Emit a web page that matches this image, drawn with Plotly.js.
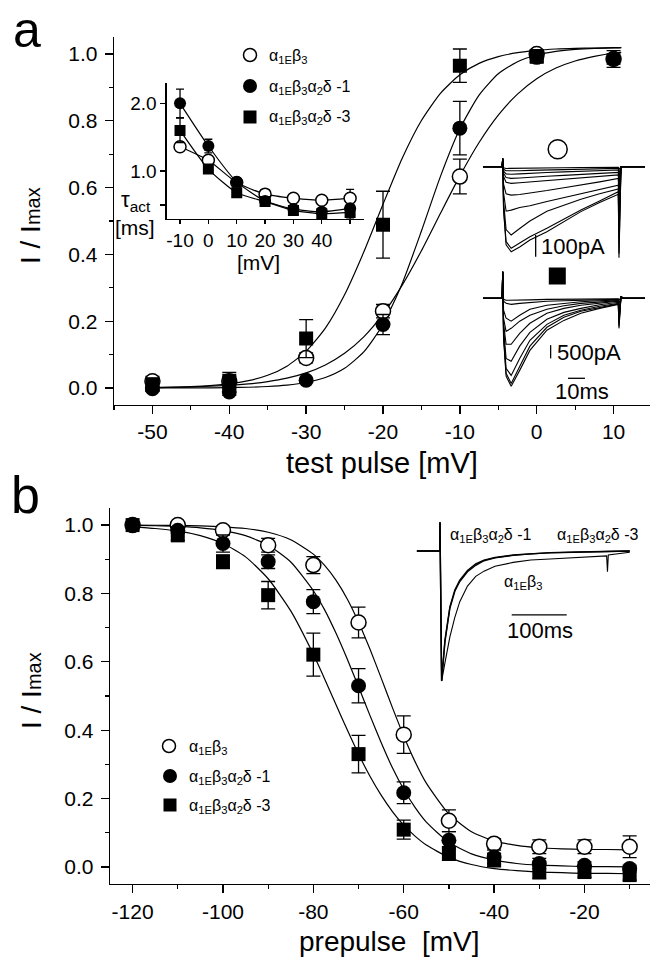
<!DOCTYPE html>
<html><head><meta charset="utf-8">
<script src="https://cdn.plot.ly/plotly-3.0.1.min.js"></script>
<style>html,body{margin:0;padding:0;background:#fff;} #chart{width:650px;height:959px;}</style>
</head><body><div id="chart"></div>
<script>
// ---------- Panel a: activation ----------
const testV = [-50, -40, -30, -20, -10, 0, 10];
const actOpen = [0.02, 0.02, 0.09, 0.23, 0.633, 1.0, 0.985];
const actOpenErr = [0.015, 0.015, 0.015, 0.02, 0.052, 0.01, 0.015];
const actFilled = [-0.002, -0.012, 0.023, 0.19, 0.778, 0.99, 0.985];
const actFilledErr = [0.005, 0.01, 0.006, 0.03, 0.08, 0.012, 0.025];
const testVsq = [-50, -40, -30, -20, -10, 0];
const actSquare = [0.01, 0.022, 0.148, 0.489, 0.965, 0.993];
const actSquareErr = [0.02, 0.025, 0.057, 0.1, 0.05, 0.02];

const fitV = [-50,-45,-40,-37.5,-35,-32.5,-30,-27.5,-25,-22.5,-20,-17.5,-15,-12.5,-10,-7.5,-5,-2.5,0,2.5,5,7.5,10,11];
const fitActSquare = [0.0013,0.0041,0.0125,0.0219,0.038,0.0654,0.110,0.179,0.279,0.407,0.550,0.688,0.801,0.883,0.938,0.972,0.992,1.004,1.011,1.015,1.017,1.018,1.019,1.019];
const fitActFilled = [0.0001,0.0003,0.0012,0.0023,0.0045,0.0087,0.0165,0.0315,0.0591,0.108,0.190,0.313,0.470,0.635,0.776,0.877,0.941,0.977,0.997,1.008,1.014,1.017,1.018,1.019];
const fitActOpen = [0.0013,0.0032,0.0079,0.0122,0.019,0.0294,0.0452,0.0689,0.1038,0.153,0.221,0.308,0.411,0.524,0.635,0.735,0.817,0.880,0.926,0.958,0.979,0.993,1.003,1.005];

// inset: tau_act
const tauV = [-10, 0, 10, 20, 30, 40, 50];
const tauOpen = [1.36, 1.16, 0.83, 0.66, 0.60, 0.57, 0.60];
const tauOpenErr = [0.07, 0.05, 0.03, 0.03, 0.03, 0.03, 0.13];
const tauFilled = [2.0, 1.37, 0.84, 0.56, 0.44, 0.40, 0.45];
const tauFilledErr = [0.21, 0.1, 0.03, 0.03, 0.03, 0.03, 0.05];
const tauSquare = [1.6, 1.03, 0.68, 0.55, 0.42, 0.37, 0.39];
const tauSquareErr = [0.18, 0.05, 0.03, 0.03, 0.03, 0.03, 0.1];

// current traces (ms, pA)
const trT = [-11.6,-0.3,0,0.5,2,5,10,16,26,36,46,57,68,68.4,69.6,71,83.7];
const trOpen = [
 [0,0,38,-5,-8,-8,-7,-7,-6,-5,-4,-4,-3,-12,0,0,0],
 [0,0,38,-12,-19,-20,-19,-17,-15,-13,-11,-10,-8,-30,0,0,0],
 [0,0,38,-20,-33,-35,-33,-30,-27,-24,-21,-18,-15,-50,0,0,0],
 [0,0,38,-30,-50,-54,-52,-48,-44,-40,-36,-31,-26,-80,0,0,0],
 [0,0,38,-45,-72,-77,-74,-70,-64,-57,-50,-44,-38,-120,0,0,0],
 [0,0,38,-80,-125,-131,-128,-122,-110,-97,-85,-70,-54,-180,0,0,0],
 [0,0,38,-120,-205,-200,-188,-180,-160,-142,-125,-105,-85,-260,0,0,0],
 [0,0,38,-160,-290,-315,-285,-250,-205,-178,-150,-125,-103,-330,0,0,0],
 [0,0,38,-190,-345,-376,-352,-323,-284,-242,-200,-158,-115,-400,0,0,0],
 [0,0,38,-200,-360,-392,-370,-338,-300,-255,-207,-165,-127,-420,0,0,0]
];
const trSquare = [
 [0,0,1000,-40,-75,-75,-75,-60,-40,-40,-40,-20,-20,-75,40,0,0],
 [0,0,1000,-110,-190,-230,-190,-150,-110,-90,-75,-60,-40,-190,40,0,0],
 [0,0,1000,-450,-750,-860,-640,-410,-260,-190,-130,-90,-60,-380,40,0,0],
 [0,0,1000,-750,-1240,-1130,-860,-640,-410,-280,-190,-130,-90,-530,40,0,0],
 [0,0,1000,-940,-1730,-1730,-1320,-940,-560,-380,-260,-190,-110,-680,50,0,0],
 [0,0,1000,-1130,-2260,-2370,-1800,-1280,-790,-530,-380,-240,-150,-830,60,0,0],
 [0,0,1000,-1320,-2630,-2900,-2260,-1580,-980,-640,-450,-300,-190,-940,75,0,0],
 [0,0,1000,-1430,-2820,-3200,-2560,-1800,-1090,-710,-490,-340,-210,-1050,75,0,0],
 [0,0,1000,-1500,-2930,-3310,-2710,-1960,-1200,-830,-560,-380,-230,-1130,75,0,0]
];

// ---------- Panel b: inactivation ----------
const prepV = [-120,-110,-100,-90,-80,-70,-60,-50,-40,-30,-20,-10];
const inOpen = [1.0,1.0,0.985,0.941,0.883,0.715,0.387,0.135,0.068,0.059,0.059,0.059];
const inOpenErr = [0.005,0.008,0.012,0.02,0.025,0.045,0.055,0.032,0.015,0.02,0.02,0.032];
const inFilled = [1.0,0.985,0.946,0.893,0.776,0.53,0.217,0.078,0.029,0.01,0.005,-0.005];
const inFilledErr = [0.005,0.01,0.025,0.02,0.035,0.05,0.032,0.025,0.02,0.015,0.01,0.01];
const inSquare = [1.0,0.97,0.893,0.795,0.621,0.33,0.109,0.039,0.02,-0.015,-0.015,-0.024];
const inSquareErr = [0.005,0.015,0.02,0.04,0.063,0.055,0.028,0.02,0.02,0.02,0.015,0.015];

const fitPV = [-120,-115,-110,-105,-100,-95,-90,-85,-80,-77.5,-75,-72.5,-70,-67.5,-65,-62.5,-60,-57.5,-55,-50,-45,-40,-35,-30,-25,-20,-15,-10];
const fitInOpen = [1.0,0.9995,0.9989,0.9976,0.995,0.990,0.979,0.957,0.915,0.882,0.839,0.784,0.716,0.638,0.553,0.466,0.383,0.308,0.245,0.155,0.103,0.076,0.063,0.056,0.053,0.051,0.051,0.050];
const fitInFilled = [0.999,0.998,0.996,0.992,0.984,0.969,0.941,0.892,0.808,0.752,0.684,0.608,0.527,0.444,0.364,0.290,0.227,0.174,0.131,0.072,0.038,0.020,0.010,0.005,0.003,0.001,0.001,0.0];
const fitInSquare = [0.995,0.990,0.983,0.969,0.946,0.907,0.843,0.749,0.622,0.550,0.475,0.401,0.330,0.266,0.210,0.162,0.122,0.090,0.064,0.028,0.007,-0.005,-0.011,-0.015,-0.017,-0.019,-0.019,-0.020];

// inset b traces (ms, normalised current)
const trBT = [-42,-0.5,0,3,9,18,27,36,50,65,80,100,133,165,200,250,303,304.5,306,345];
const trBd1 = [0,0,0.22,-1.0,-0.685,-0.43,-0.30,-0.225,-0.15,-0.10,-0.07,-0.05,-0.031,-0.02,-0.013,-0.008,-0.004,-0.004,-0.004,0];
const trBd3 = [0,0,0.22,-1.0,-0.70,-0.44,-0.31,-0.235,-0.16,-0.11,-0.075,-0.053,-0.034,-0.022,-0.015,-0.009,-0.005,-0.005,-0.005,0];
const trBb3 = [0,0,0.22,-1.0,-0.86,-0.66,-0.51,-0.39,-0.27,-0.195,-0.155,-0.118,-0.088,-0.069,-0.062,-0.052,-0.038,-0.16,-0.03,-0.01];

// tick labels
const aTickVals = [-50,-40,-30,-20,-10,0,10];
const aTickText = ['-50','-40','-30','-20','-10','0','10'];
const bTickVals = [-120,-100,-80,-60,-40,-20];
const bTickText = ['-120','-100','-80','-60','-40','-20'];
const yTickVals = [0,0.2,0.4,0.6,0.8,1.0];
const yTickText = ['0.0','0.2','0.4','0.6','0.8','1.0'];
const insTickVals = [-10,0,10,20,30,40,50];
const insTickText = ['-10','0','10','20','30','40',''];
const insYTickVals = [0.5,1.0,2.0];
const insYTickText = ['','1.0','2.0'];

const labOpen = 'α<sub>1E</sub>β<sub>3</sub>';
const labD1 = 'α<sub>1E</sub>β<sub>3</sub>α<sub>2</sub>δ -1';
const labD3 = 'α<sub>1E</sub>β<sub>3</sub>α<sub>2</sub>δ -3';

// ---------- build ----------
const W = 650, H = 959;
const px = x => x / W, py = y => 1 - y / H;
const FONT = 'Liberation Sans, Arial, sans-serif';
const K = 'black';

const traces = [];
function fit(x, y, xa, ya, w) {
  traces.push({x, y, xaxis: xa, yaxis: ya, mode: 'lines', line: {color: K, width: w || 1.2, shape: 'spline', smoothing: 0.6}, hoverinfo: 'skip'});
}
function pts(x, y, e, kind, xa, ya, size, cap) {
  const m = kind === 'open' ? {symbol: 'circle', color: 'white', size: size, line: {color: K, width: 1.5}}
          : kind === 'filled' ? {symbol: 'circle', color: K, size: size, line: {width: 0}}
          : {symbol: 'square', color: K, size: size - 1, line: {width: 0}};
  traces.push({x, y, xaxis: xa, yaxis: ya, mode: 'markers', marker: m,
    error_y: {type: 'data', array: e, visible: true, color: K, thickness: 1.3, width: cap}, hoverinfo: 'skip'});
}
// panel a
fit(fitV, fitActSquare, 'x', 'y');
fit(fitV, fitActFilled, 'x', 'y');
fit(fitV, fitActOpen, 'x', 'y');
pts(testV, actOpen, actOpenErr, 'open', 'x', 'y', 15, 7);
pts(testV, actFilled, actFilledErr, 'filled', 'x', 'y', 15, 7);
pts(testVsq, actSquare, actSquareErr, 'square', 'x', 'y', 15, 7);
// inset a
fit(tauV, tauOpen, 'x3', 'y3', 1.2);
fit(tauV, tauFilled, 'x3', 'y3', 1.2);
fit(tauV, tauSquare, 'x3', 'y3', 1.2);
pts(tauV, tauOpen, tauOpenErr, 'open', 'x3', 'y3', 12, 4);
pts(tauV, tauFilled, tauFilledErr, 'filled', 'x3', 'y3', 12, 4);
pts(tauV, tauSquare, tauSquareErr, 'square', 'x3', 'y3', 12, 4);
// current traces
trOpen.forEach(c => traces.push({x: trT, y: c, xaxis: 'x4', yaxis: 'y4', mode: 'lines', line: {color: K, width: 1.1}, hoverinfo: 'skip'}));
trSquare.forEach(c => traces.push({x: trT, y: c, xaxis: 'x5', yaxis: 'y5', mode: 'lines', line: {color: K, width: 1.1}, hoverinfo: 'skip'}));
// panel b
fit(fitPV, fitInOpen, 'x2', 'y2');
fit(fitPV, fitInFilled, 'x2', 'y2');
fit(fitPV, fitInSquare, 'x2', 'y2');
pts(prepV, inOpen, inOpenErr, 'open', 'x2', 'y2', 15, 7);
pts(prepV, inFilled, inFilledErr, 'filled', 'x2', 'y2', 15, 7);
pts(prepV, inSquare, inSquareErr, 'square', 'x2', 'y2', 15, 7);
// inset b traces
[trBd1, trBd3].forEach(c => traces.push({x: trBT, y: c, xaxis: 'x6', yaxis: 'y6', mode: 'lines', line: {color: K, width: 1.4}, hoverinfo: 'skip'}));
traces.push({x: trBT, y: trBb3, xaxis: 'x6', yaxis: 'y6', mode: 'lines', line: {color: K, width: 1.1}, hoverinfo: 'skip'});

const tickFont = {family: FONT, size: 21, color: K};
function axis(extra) {
  return Object.assign({showline: true, linecolor: K, linewidth: 1.3, ticks: 'outside', ticklen: 8, tickwidth: 1.3, tickcolor: K,
    showgrid: false, zeroline: false, tickfont: tickFont, tickmode: 'array', fixedrange: true}, extra);
}
function hidden(extra) {
  return Object.assign({visible: false, showgrid: false, zeroline: false, fixedrange: true}, extra);
}
const minorX = d => ({ticks: 'outside', ticklen: 4, tickwidth: 1.2, tickcolor: K, tickmode: 'linear', tick0: 0, dtick: d, showgrid: false});

const layout = {
  width: W, height: H, margin: {l: 0, r: 0, t: 0, b: 0}, paper_bgcolor: 'white', plot_bgcolor: 'rgba(0,0,0,0)',
  showlegend: false, font: {family: FONT, color: K},
  xaxis: axis({domain: [px(114), 1], range: [-55, 14.74], anchor: 'y', tickvals: aTickVals, ticktext: aTickText, minor: minorX(5)}),
  yaxis: axis({domain: [py(404.7), py(37.3)], range: [-0.05, 1.05], anchor: 'x', tickvals: yTickVals, ticktext: yTickText, minor: minorX(0.1), ticklabelstandoff: 3}),
  xaxis2: axis({domain: [px(110), 1], range: [-125, -5.5], anchor: 'y2', tickvals: bTickVals, ticktext: bTickText, minor: minorX(10)}),
  yaxis2: axis({domain: [py(884), py(508)], range: [-0.05, 1.05], anchor: 'x2', tickvals: yTickVals, ticktext: yTickText, minor: minorX(0.1), ticklabelstandoff: 3}),
  xaxis3: axis({domain: [px(166.7), px(364)], range: [-14.7, 54.9], anchor: 'y3', tickvals: insTickVals, ticktext: insTickText, ticklen: 4, tickfont: {family: FONT, size: 19, color: K}, ticklabelstandoff: 0}),
  yaxis3: axis({domain: [py(219), py(82.7)], range: [0.293, 2.304], anchor: 'x3', tickvals: insYTickVals, ticktext: insYTickText, ticklen: 5, tickfont: {family: FONT, size: 19, color: K}}),
  xaxis4: hidden({domain: [px(480), 1], range: [-13.35, 86.65], anchor: 'y4'}),
  yaxis4: hidden({domain: [py(270), py(140)], range: [-476, 123], anchor: 'x4'}),
  xaxis5: hidden({domain: [px(480), 1], range: [-13.35, 86.65], anchor: 'y5'}),
  yaxis5: hidden({domain: [py(400), py(260)], range: [-3824, 1440], anchor: 'x5'}),
  xaxis6: hidden({domain: [px(410), 1], range: [-54.5, 381.8], anchor: 'y6'}),
  yaxis6: hidden({domain: [py(690), py(510)], range: [-1.069, 0.315], anchor: 'x6'}),
  shapes: [], annotations: []
};

function circ(cx, cy, d, filled) {
  layout.shapes.push({type: 'circle', xref: 'paper', yref: 'paper', x0: px(cx - d/2), x1: px(cx + d/2), y0: py(cy + d/2), y1: py(cy - d/2),
    line: {color: K, width: filled ? 0 : 1.5}, fillcolor: filled ? K : 'white'});
}
function sq(cx, cy, d) {
  layout.shapes.push({type: 'rect', xref: 'paper', yref: 'paper', x0: px(cx - d/2), x1: px(cx + d/2), y0: py(cy + d/2), y1: py(cy - d/2),
    line: {width: 0}, fillcolor: K});
}
function txt(text, x, y, size, xanchor, angle) {
  layout.annotations.push({text, x: px(x), y: py(y), xref: 'paper', yref: 'paper', showarrow: false,
    xanchor: xanchor || 'center', yanchor: 'middle', textangle: angle || 0, font: {family: FONT, size, color: K}});
}
function seg(xa, ya, x0, x1, y0, y1) {
  layout.shapes.push({type: 'line', xref: xa, yref: ya, x0, x1, y0, y1, line: {color: K, width: 1.3}});
}

// legend panel a
circ(250, 55, 13, false); circ(250, 86, 14, true); sq(250, 117, 13);
txt(labOpen, 267, 56, 16, 'left'); txt(labD1, 267, 87, 16, 'left'); txt(labD3, 267, 118, 16, 'left');
// legend panel b
circ(169, 746, 13, false); circ(170, 776, 14, true); sq(170, 805, 13);
txt(labOpen, 187, 747, 16, 'left'); txt(labD1, 187, 777, 16, 'left'); txt(labD3, 187, 806, 16, 'left');
// symbols over recordings
circ(557.7, 149.3, 19, false); sq(557.3, 276, 17);
// scale bars
seg('x4', 'y4', 19.4, 19.4, -315, -415);
seg('x5', 'y5', 28.2, 28.2, -1760, -2260);
seg('x5', 'y5', 38.4, 48.4, -3008, -3008);
seg('x6', 'y6', 130.4, 230.4, -0.492, -0.492);
txt('100pA', 539, 246, 22, 'left');
txt('500pA', 555, 352, 22, 'left');
txt('10ms', 582, 391, 22, 'center');
txt('100ms', 540, 630, 22, 'center');
// inset b labels
txt(labD1, 448, 535, 16, 'left');
txt(labD3, 555, 535, 16, 'left');
txt(labOpen, 502, 582, 16, 'left');
// inset a axis labels
txt('τ<sub>act</sub>', 119, 201, 22, 'left');
txt('[ms]', 113, 228, 21, 'left');
txt('[mV]', 258, 262, 21, 'center');
// panel letters and axis titles
txt('a', 27, 30, 50, 'center');
txt('b', 25, 495, 52, 'center');
txt('test pulse [mV]', 382, 463, 29, 'center');
txt('prepulse\u00a0 [mV]', 389, 941, 28, 'center');
txt('I / I<span style="font-size:20px">max</span>', 31, 226, 28, 'center', -90);
txt('I / I<span style="font-size:20px">max</span>', 31, 691, 28, 'center', -90);

Plotly.newPlot('chart', traces, layout, {staticPlot: true, displayModeBar: false});
</script></body></html>
